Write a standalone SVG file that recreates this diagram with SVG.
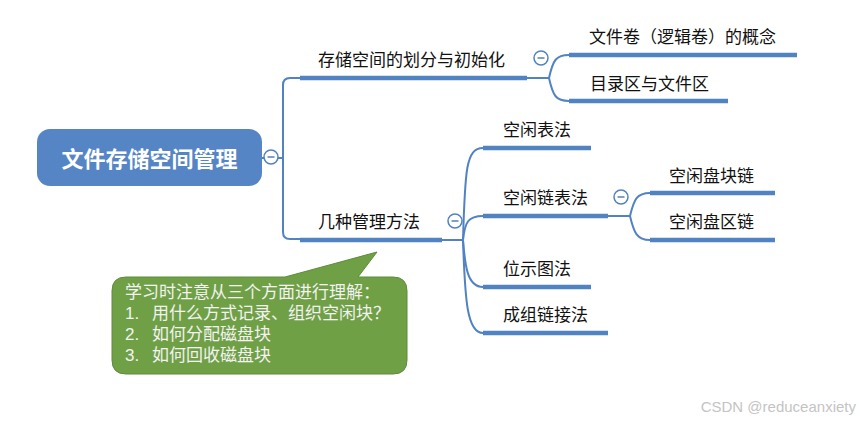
<svg xmlns="http://www.w3.org/2000/svg" width="862" height="421" viewBox="0 0 862 421">
<style>
.t{font-family:"Noto Sans CJK SC","Noto Sans",sans-serif;font-size:17px;fill:#111}
.root{font-family:"Noto Sans CJK SC",sans-serif;font-size:22px;font-weight:bold;fill:#fff}
.note{font-family:"Liberation Sans","Noto Sans CJK SC",sans-serif;font-size:17px;fill:#f2f2f2}
.bar{stroke:#5183C3;stroke-width:4.5;fill:none}
.ln{stroke:#5183C3;stroke-width:2;fill:none}
.cc{fill:#fff;stroke:#5183C3;stroke-width:1.5}
.cm{stroke:#5a7fae;stroke-width:1.5}
</style>
<defs>
<g id="col"><circle class="cc" r="7"/><line class="cm" x1="-3.5" y1="0" x2="3.5" y2="0"/></g>
</defs>
<rect width="862" height="421" fill="#fff"/>
<g id="connectors">
<path class="ln" d="M262,158 L283,158"/>
<path class="ln" d="M300,78 L290,78 Q283,78 283,85 L283,232 Q283,239 290,239 L300,239"/>
<path class="ln" d="M527,78 L549,78"/>
<path class="ln" d="M549,78 C553,60 556,55 569,55"/>
<path class="ln" d="M549,78 C553,96 556,101 569,101"/>
<path class="ln" d="M442,240 L463,240"/>
<path class="ln" d="M463,240 C465,170 466,148 483,148"/>
<path class="ln" d="M463,240 C465,222 468,216 483,216"/>
<path class="ln" d="M463,240 C465,265 467,287 483,287"/>
<path class="ln" d="M463,240 C465,300 467,333 483,333"/>
<path class="ln" d="M608,216 L630,216"/>
<path class="ln" d="M630,216 C634,199 637,193 650,193"/>
<path class="ln" d="M630,216 C634,233 637,240 650,240"/>
</g>
<g id="root">
<rect x="37" y="129" width="225" height="57" rx="13" fill="#5585C5"/>
<text class="root" x="149.5" y="167" text-anchor="middle">文件存储空间管理</text>
<use href="#col" x="271" y="157"/>
</g>
<g id="n-partition">
<path class="bar" d="M300,78 L527,78"/>
<text class="t" x="318" y="66">存储空间的划分与初始化</text>
<use href="#col" x="541" y="58"/>
</g>
<g id="n-volume">
<path class="bar" d="M569,55 L797,55"/>
<text class="t" x="589" y="43">文件卷（逻辑卷）的概念</text>
</g>
<g id="n-dirarea">
<path class="bar" d="M569,101 L728,101"/>
<text class="t" x="590" y="90">目录区与文件区</text>
</g>
<g id="n-methods">
<path class="bar" d="M300,240 L442,240"/>
<text class="t" x="318" y="228">几种管理方法</text>
<use href="#col" x="455" y="221"/>
</g>
<g id="n-freetable">
<path class="bar" d="M483,148 L591,148"/>
<text class="t" x="503" y="136">空闲表法</text>
</g>
<g id="n-freelist">
<path class="bar" d="M483,216 L608,216"/>
<text class="t" x="503" y="204">空闲链表法</text>
<use href="#col" x="621" y="197"/>
</g>
<g id="n-blockchain">
<path class="bar" d="M650,193 L775,193"/>
<text class="t" x="669" y="182">空闲盘块链</text>
</g>
<g id="n-areachain">
<path class="bar" d="M650,240 L775,240"/>
<text class="t" x="669" y="228">空闲盘区链</text>
</g>
<g id="n-bitmap">
<path class="bar" d="M483,287 L591,287"/>
<text class="t" x="503" y="275">位示图法</text>
</g>
<g id="n-group">
<path class="bar" d="M483,333 L608,333"/>
<text class="t" x="503" y="321">成组链接法</text>
</g>
<g id="callout">
<path d="M126,277 L285,277 L377,252 L358,277 L393,277 Q407,277 407,291 L407,360 Q407,374 393,374 L126,374 Q112,374 112,360 L112,291 Q112,277 126,277 Z" fill="#70A046" stroke="#5E8B3A" stroke-width="1"/>
<text class="note" x="125" y="298">学习时注意从三个方面进行理解：<tspan x="125" y="319">1.</tspan><tspan x="152" y="319">用什么方式记录、组织空闲块？</tspan><tspan x="125" y="340">2.</tspan><tspan x="152" y="340">如何分配磁盘块</tspan><tspan x="125" y="361">3.</tspan><tspan x="152" y="361">如何回收磁盘块</tspan></text>
</g>
<text x="856" y="412" text-anchor="end" font-family="Liberation Sans,Arial,sans-serif" font-size="15" fill="#c4c4c4">CSDN @reduceanxiety</text>
</svg>
